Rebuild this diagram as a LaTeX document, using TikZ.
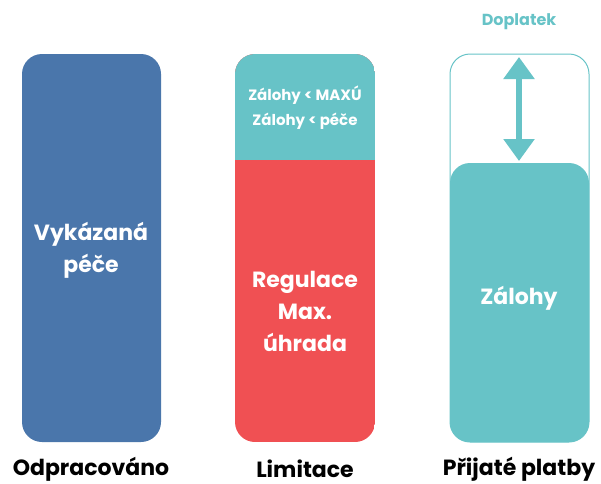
\documentclass[tikz,border=0pt]{standalone}
\usepackage{fontspec}
\setmainfont{Poppins}
\usetikzlibrary{arrows.meta}
\definecolor{blueb}{HTML}{4A76AB}
\definecolor{redb}{HTML}{F05053}
\definecolor{tealb}{HTML}{67C3C7}
\tikzset{
  box/.style={rounded corners=20pt},
  intext/.style={text=white, font=\bfseries\fontsize{22}{32}\selectfont, align=center},
  small/.style={text=white, font=\bfseries\fontsize{15}{25}\selectfont, align=center},
  caption/.style={font=\bfseries\fontsize{22}{26}\selectfont}
}
\begin{document}
\begin{tikzpicture}[x=1pt, y=-1pt]
\useasboundingbox (0,0) rectangle (601,483);
% Odpracovano
\fill [blueb, box] (22,54) rectangle (161,442);
\node [intext] (vyk) at (91,250) {Vykázaná\\péče};
% Limitace
\begin{scope}
\clip [box] (235,54) rectangle (375,442);
\fill [redb] (235,54) rectangle (375,442);
\fill [tealb] (235,54) rectangle (375,160);
\end{scope}
\node [small] (zal) at (305,108) {Zálohy < MAXÚ\\Zálohy < péče};
\node [intext] (reg) at (305,311) {Regulace\\Max.\\úhrada};
% Prijate platby
\draw [tealb, box, line width=1pt] (450,54) rectangle (589,442);
\fill [tealb, box] (450,163) rectangle (589,442);
\node [intext] (zalohy) at (519,298) {Zálohy};
\coordinate (top) at (519,57);
\coordinate (bot) at (519,161);
\draw [tealb, line width=6pt, {Triangle[length=22pt,width=30pt]}-{Triangle[length=22pt,width=30pt]}] (top) -- (bot);
\node [font=\bfseries\fontsize{16}{18}\selectfont, text=tealb] (dop) at (519,22) {Doplatek};
% popisky
\node [caption] (c1) at (91,469) {Odpracováno};
\node [caption] (c2) at (305,469) {Limitace};
\node [caption] (c3) at (519,469) {Přijaté platby};
\end{tikzpicture}
\end{document}
